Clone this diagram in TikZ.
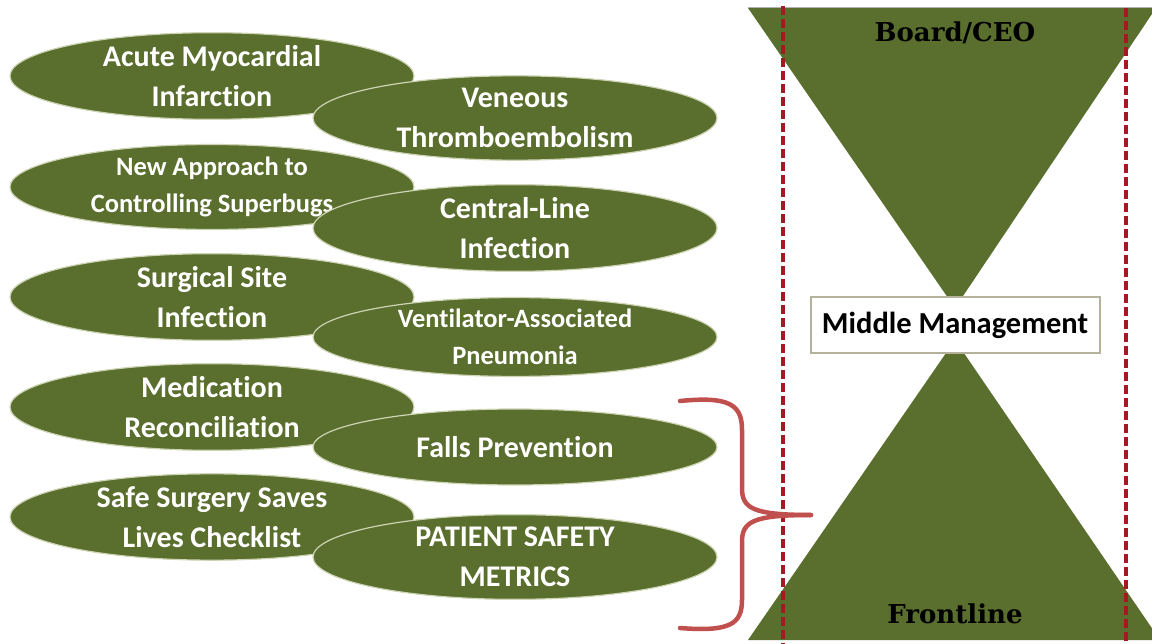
\documentclass[tikz,border=0pt]{standalone}
\usepackage{fontspec}
\setmainfont{Carlito}[Ligatures=NoCommon]
\newfontfamily\cambriaish{DejaVu Serif}
\usetikzlibrary{shapes.geometric}
\definecolor{olive}{RGB}{90,110,45}
\definecolor{oliveedge}{RGB}{205,212,180}
\definecolor{darkred}{RGB}{165,25,35}
\definecolor{bracered}{RGB}{192,80,77}
\definecolor{boxedge}{RGB}{180,178,155}
\tikzset{
  oval/.style={ellipse, fill=olive, draw=oliveedge, line width=1.2pt,
    minimum width=404pt, minimum height=76pt, inner sep=0pt,
    text=white, align=center, font=\bfseries\fontsize{30}{40}\selectfont},
  ovalsmall/.style={oval, font=\bfseries\fontsize{26.5}{37}\selectfont},
  tri/.style={fill=olive},
  guide/.style={draw=darkred, line width=3.5pt, dash pattern=on 9pt off 4pt},
  mgmt/.style={draw=boxedge, line width=2pt, fill=white, minimum width=289pt,
    minimum height=56pt, inner sep=0pt, font=\bfseries\fontsize{30.5}{34}\selectfont},
  level/.style={font=\cambriaish\bfseries\fontsize{26}{30}\selectfont, text=black},
  brace/.style={draw=bracered, line width=4.5pt, line cap=round}
}
\begin{document}
\begin{tikzpicture}[x=1pt,y=-1pt]
\useasboundingbox (0,0) rectangle (1152,644);
% left column
\node[oval] (ami) at (212,76) {Acute Myocardial\\Infarction};
\node[ovalsmall] (sb) at (212,187) {New Approach to\\Controlling Superbugs};
\node[oval] (ssi) at (212,297) {Surgical Site\\Infection};
\node[oval] (mr) at (212,407) {Medication\\Reconciliation};
\node[oval] (ss) at (212,517) {Safe Surgery Saves\\Lives Checklist};
% right column
\node[oval] (vte) at (515,118) {Veneous\\Thromboembolism};
\node[oval] (cli) at (515,228) {Central-Line\\Infection};
\node[ovalsmall] (vap) at (515,337) {Ventilator-Associated\\Pneumonia};
\node[oval] (fp) at (515,447) {Falls Prevention};
\node[oval] (psm) at (515,557) {PATIENT SAFETY\\METRICS};
% hourglass
\coordinate (ttl) at (748,8);
\coordinate (ttr) at (1156,8);
\coordinate (tapex) at (955,308);
\coordinate (bapex) at (955,340);
\coordinate (bbl) at (748,640);
\coordinate (bbr) at (1160,640);
\fill[tri] (ttl) -- (ttr) -- (tapex) -- cycle;
\draw[gray!60, line width=1pt] (ttl) -- (ttr);
\fill[tri] (bapex) -- (bbr) -- (bbl) -- cycle;
\node[mgmt] (mm) at (955,325) {Middle Management};
\node[level] (ceo) at (955,33) {Board/CEO};
\node[level] (front) at (955,614) {Frontline};
% dashed guides
\coordinate (g1t) at (783,6);
\coordinate (g1b) at (783,644);
\coordinate (g2t) at (1126,8);
\coordinate (g2b) at (1126,644);
\draw[guide] (g1t) -- (g1b);
\draw[guide] (g2t) -- (g2b);
% brace
\coordinate (btop) at (680,401);
\coordinate (btip) at (811,515);
\coordinate (bbot) at (680,628);
\draw[brace] (btop) .. controls (730,396) and (742,405) .. (742,430)
  -- (742,488) .. controls (742,508) and (752,515) .. (btip);
\draw[brace] (btip) .. controls (752,515) and (742,522) .. (742,542)
  -- (742,600) .. controls (742,624) and (730,632) .. (bbot);
\end{tikzpicture}
\end{document}
